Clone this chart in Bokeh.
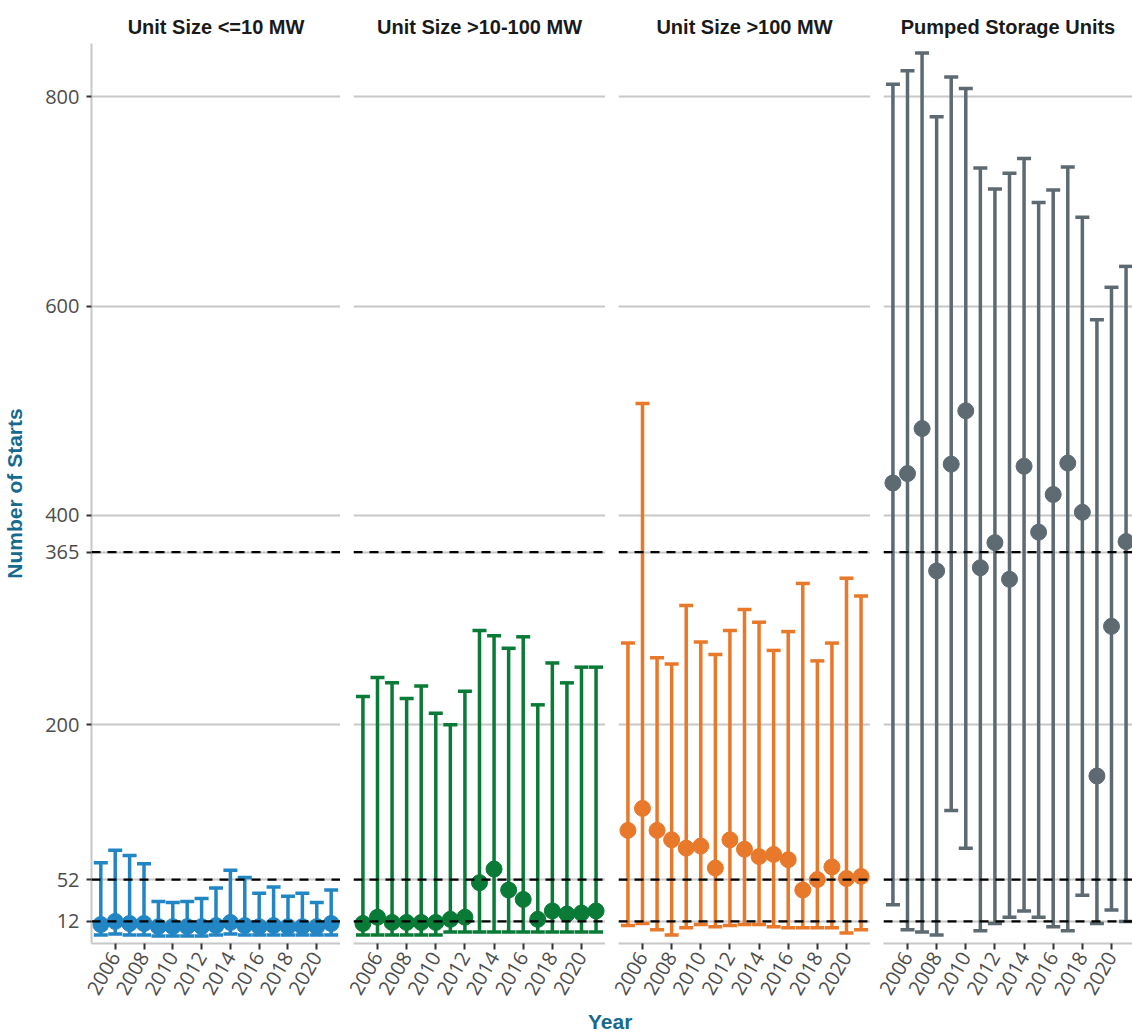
import math
from bokeh.plotting import figure
from bokeh.layouts import row, column
from bokeh.models import (Whisker, TeeHead, Span, FixedTicker, Grid,
                          ColumnDataSource, Div, Range1d)
from bokeh.embed import file_html
from bokeh.resources import INLINE

# ---------------- data ----------------
years = list(range(2005, 2022))
x_ticks = [2006, 2008, 2010, 2012, 2014, 2016, 2018, 2020]
y_ticks = [12, 52, 200, 365, 400, 600, 800]
ref_lines = [12, 52, 365]

titles = ["Unit Size <=10 MW", "Unit Size >10-100 MW", "Unit Size >100 MW",
          "Pumped Storage Units"]

small_hi = [68, 80, 75, 67, 31, 30, 31, 34, 44, 61, 54, 39, 45, 36, 39, 30, 42]
small_med = [9, 12, 10, 10, 7, 7, 7, 7, 8, 11, 8, 7, 8, 7, 7, 7, 10]
small_lo = [-1, 0, -1, -1, -2, -2, -2, -2, -1, 0, -1, -1, -1, -1, -1, -1, -1]

mid_hi = [227, 245, 240, 225, 237, 211, 200, 232, 290, 285, 273, 284, 219, 259, 240, 255, 255]
mid_med = [10, 16, 11, 11, 11, 11, 14, 16, 49, 62, 42, 33, 14, 22, 19, 20, 22]
mid_lo = [-1, -1, -1, -1, -1, -1, 2, 2, 2, 2, 2, 2, 2, 2, 2, 2, 2]

large_hi = [278, 507, 264, 258, 314, 279, 267, 290, 310, 298, 271, 289, 335, 261, 278, 340, 323]
large_med = [99, 120, 99, 90, 82, 84, 63, 90, 81, 74, 76, 71, 42, 52, 64, 53, 55]
large_lo = [8, 10, 4, -1, 6, 9, 7, 8, 9, 9, 7, 6, 6, 6, 6, 1, 4]

ps_hi = [812, 825, 842, 781, 819, 808, 732, 712, 727, 741, 699, 711, 733, 685, 587, 618, 638]
ps_med = [431, 440, 483, 347, 449, 500, 350, 374, 339, 447, 384, 420, 450, 403, 151, 294, 375]
ps_lo = [28, 4, 2, -1, 118, 82, 3, 10, 16, 22, 16, 7, 3, 37, 10, 23, 12]

colors = ["#2386c4", "#0a7a37", "#e8792b", "#5d6a72"]
series = [(small_lo, small_med, small_hi), (mid_lo, mid_med, mid_hi),
          (large_lo, large_med, large_hi), (ps_lo, ps_med, ps_hi)]

# ---------------- layout constants ----------------
PX_PER_YEAR = 14.571
X0 = 2004.353
FRAME_W = [252, 252, 252, 249]
LEFT_B = [88, 13, 13, 13]
TOP_B = 43
FRAME_H = 900
BOTTOM_B = 64
TICK_FONT = "Open Sans"
GRID_C = "#c8c8c8"
LABEL_C = "#17698e"

figs = []
for i in range(4):
    lo, med, hi = series[i]
    c = colors[i]
    p = figure(width=LEFT_B[i] + FRAME_W[i], height=TOP_B + FRAME_H + BOTTOM_B,
               x_range=Range1d(X0, X0 + FRAME_W[i] / PX_PER_YEAR),
               y_range=Range1d(-9.1, 851),
               output_backend="svg", toolbar_location=None,
               y_axis_location="left" if i == 0 else None,
               min_border_left=LEFT_B[i], min_border_right=0,
               min_border_top=TOP_B, min_border_bottom=BOTTOM_B)
    p.outline_line_color = None
    p.background_fill_color = "white"
    p.border_fill_color = "white"
    p.xgrid.visible = False
    p.ygrid.visible = False
    p.add_layout(Grid(dimension=1, ticker=FixedTicker(ticks=y_ticks),
                      grid_line_color=GRID_C, grid_line_width=2))

    p.title.text = titles[i]
    p.title.align = "center"
    p.title.text_font = "Liberation Sans"
    p.title.text_font_style = "bold"
    p.title.text_font_size = "20px"
    p.title.text_color = "#1a1a1a"
    p.title.standoff = 12

    xa = p.xaxis[0]
    xa.ticker = FixedTicker(ticks=x_ticks)
    xa.major_label_orientation = math.radians(60)
    xa.axis_line_color = GRID_C
    xa.axis_line_width = 2
    xa.major_tick_line_color = "#333333"
    xa.major_tick_line_width = 2
    xa.major_tick_out = 6
    xa.major_tick_in = 0
    xa.minor_tick_line_color = None
    xa.major_label_text_font = TICK_FONT
    xa.major_label_text_font_size = "20px"
    xa.major_label_text_color = "#4d4d4d"
    xa.major_label_standoff = 4

    if i == 0:
        ya = p.yaxis[0]
        ya.ticker = FixedTicker(ticks=y_ticks)
        ya.axis_label = "Number of Starts"
        ya.axis_label_text_font = "Liberation Sans"
        ya.axis_label_text_font_style = "bold"
        ya.axis_label_text_font_size = "21px"
        ya.axis_label_text_color = LABEL_C
        ya.axis_label_standoff = 16
        ya.axis_line_color = GRID_C
        ya.axis_line_width = 2
        ya.major_tick_line_color = "#333333"
        ya.major_tick_line_width = 2
        ya.major_tick_out = 5
        ya.major_tick_in = 0
        ya.minor_tick_line_color = None
        ya.major_label_text_font = TICK_FONT
        ya.major_label_text_font_size = "20px"
        ya.major_label_text_color = "#4d4d4d"
        ya.major_label_standoff = 7

    src = ColumnDataSource(dict(year=years, lo=lo, med=med, hi=hi))
    w = Whisker(base="year", lower="lo", upper="hi", source=src,
                line_color=c, line_width=3.5,
                upper_head=TeeHead(size=14, line_color=c, line_width=3.5),
                lower_head=TeeHead(size=14, line_color=c, line_width=3.5))
    p.add_layout(w)
    p.scatter("year", "med", source=src, size=16, color=c)

    for v in ref_lines:
        p.add_layout(Span(location=v, dimension="width", line_color="black",
                          line_width=2.2, line_dash="9 7"))
    figs.append(p)

year_div = Div(text=("<span style=\"font-family:'Liberation Sans';font-weight:bold;"
                     "font-size:21px;color:%s;\">Year</span>" % LABEL_C),
               width=80, height=26, margin=(0, 0, 0, 588))

layout = column(row(*figs, spacing=0), year_div, spacing=0)

open("out.html", "w").write(file_html(layout, INLINE))
